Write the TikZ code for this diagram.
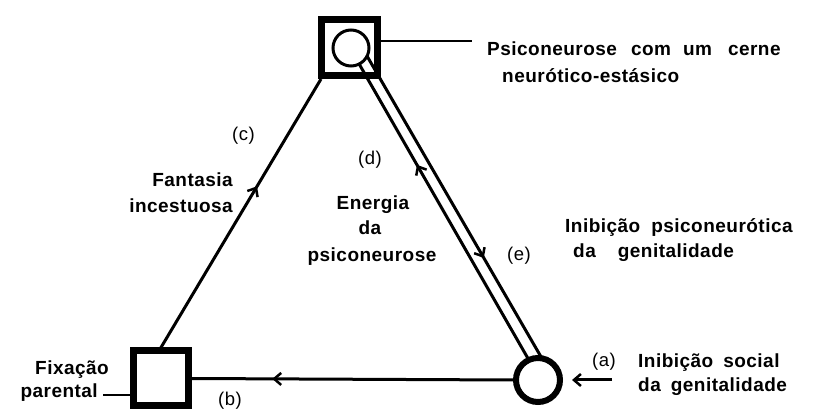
\documentclass[tikz,border=0pt]{standalone}
\usepackage{fontspec}
\setmainfont{Liberation Sans}
\newfontfamily\labfont{Liberation Sans}[LetterSpace=2.5]
\usetikzlibrary{arrows.meta,decorations.markings,calc,backgrounds}
\begin{document}
\begin{tikzpicture}[x=1pt,y=-1pt,
  barb/.tip={Straight Barb[length=7pt,width=12pt,line width=2.5pt]},
  txt/.style={font=\labfont\fontsize{19}{22}\selectfont\bfseries, inner sep=0pt, anchor=base west},
  tag/.style={font=\labfont\fontsize{18.5}{22}\selectfont, inner sep=0pt, anchor=base west},
  sqbox/.style={draw, line width=7pt, inner sep=0pt, rectangle},
  ring/.style={draw, circle, inner sep=0pt, fill=white},
  conn/.style={line width=3pt},
  lead/.style={line width=1.6pt},
  arrowat/.style={postaction={decorate}, decoration={markings, mark=at position #1 with {\arrow{barb}}}},
  arrowbackat/.style={postaction={decorate}, decoration={markings, mark=at position #1 with {\arrowreversed{barb}}}}
]
\useasboundingbox (0,0) rectangle (814,411);

% nodes
\node[sqbox, minimum size=56pt] (tb) at (349.5,47.5) {};
\node[ring, line width=3pt, minimum size=36pt] (tc) at (351,48) {};
\node[sqbox, minimum size=55pt, fill=white] (bl) at (161,378.5) {};
\node[ring, line width=6pt, minimum size=44pt] (bc) at (538,380) {};

\coordinate (dl1) at ($(tc)+(7,14)$);
\coordinate (dl2) at ($(bc)+(-8,-18)$);
\coordinate (dr1) at ($(tc)+(16,8)$);
\coordinate (dr2) at ($(bc)+(6,-18)$);
\coordinate (aend) at (612,380);
\coordinate (tlead) at (472,41);
\coordinate (flead) at (103,395);

\begin{scope}[on background layer]
  \draw[conn, arrowat=0.6] (bl.north) -- ($(tb.south west)+(3,0)$);
  \draw[conn, arrowat=0.75] (bc.west) -- (bl.east);
  \draw[conn, arrowbackat=0.343] (dl1) -- (dl2);
  \draw[conn, arrowat=0.66] (dr1) -- (dr2);
\end{scope}

\draw[conn, -{barb}, shorten >=9pt] (aend) -- (bc.east);
\draw[lead] (tb.east |- tlead) -- (tlead);
\draw[lead] (flead) -- (bl.west |- flead);

% texts
\node[txt] (t1) at (487,56) {Psiconeurose\hspace{14pt}com\hspace{12pt}um\hspace{16pt}cerne};
\node[txt] (t2) at (502,83) {neurótico-estásico};
\node[txt] (t3) at (565,233) {Inibição\hspace{11pt}psiconeurótica};
\node[txt] (t4) at (573,258) {da\hspace{22pt}genitalidade};
\node[txt] (t5) at (638,368) {Inibição\hspace{10pt}social};
\node[txt] (t6) at (638,392) {da\hspace{10pt}genitalidade};
\node[txt, anchor=base] (e1) at (373,210) {Energia};
\node[txt, anchor=base] (e2) at (370,235) {da};
\node[txt, anchor=base] (e3) at (372,262) {psiconeurose};
\node[txt, anchor=base east] (f1) at (233,187) {Fantasia};
\node[txt, anchor=base east] (f2) at (233,213) {incestuosa};
\node[txt, anchor=base east] (x1) at (109,375) {Fixação};
\node[txt, anchor=base east] (x2) at (98,398) {parental};

\node[tag] (lc) at (232,141) {(c)};
\node[tag] (ld) at (358,165) {(d)};
\node[tag] (le) at (507,261) {(e)};
\node[tag] (la) at (592,367) {(a)};
\node[tag] (lb) at (218,406) {(b)};
\end{tikzpicture}
\end{document}
